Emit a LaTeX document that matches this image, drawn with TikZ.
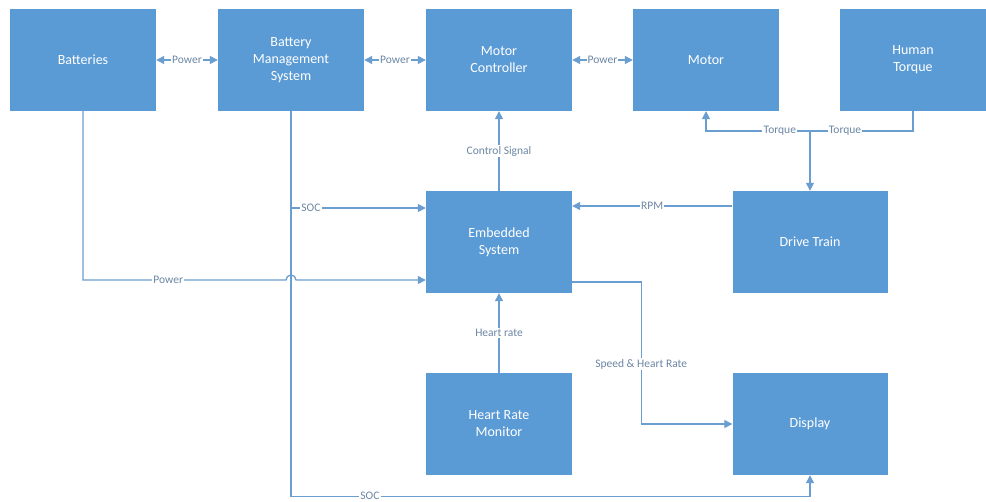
\documentclass[tikz,border=0pt]{standalone}
\usepackage{fontspec}
\setmainfont{Carlito}
\usetikzlibrary{arrows.meta}
\definecolor{boxblue}{HTML}{5B9BD5}
\definecolor{lineblue}{HTML}{6A9DD0}
\definecolor{taggray}{HTML}{6C86A4}
\tikzset{
  block/.style={fill=boxblue, text=white, minimum width=146pt, minimum height=102pt,
    inner sep=0pt, align=center, font=\fontsize{14}{17}\selectfont},
  plain/.style={draw=lineblue, line width=1.3pt},
  link/.style={plain, -{Triangle[length=8pt, width=8pt]}},
  both/.style={plain, {Triangle[length=8pt, width=8pt]}-{Triangle[length=8pt, width=8pt]}},
  tag/.style={fill=white, text=taggray, inner sep=1.2pt, font=\fontsize{11.5}{13}\selectfont}
}

\begin{document}
\begin{tikzpicture}[x=1pt, y=-1pt]
\path[fill=white] (0,0) rectangle (986,500);
% Blocks
    \node[block] (bat)  at (83,60)   {Batteries};
    \node[block] (bms)  at (291,60)  {Battery\\Management\\System};
    \node[block] (mc)   at (499,60)  {Motor\\Controller};
    \node[block] (mot)  at (706,60)  {Motor};
    \node[block] (ht)   at (913,60)  {Human\\Torque};
    \node[block] (emb)  at (499,242) {Embedded\\System};
    \node[block, minimum width=155pt] (dt)   at (810,242) {Drive Train};
    \node[block] (hrm)  at (499,424) {Heart Rate\\Monitor};
    \node[block, minimum width=155pt] (disp) at (810,424) {Display};
% Power chain
    \draw[both] (bat) -- node[tag]{Power} (bms);
    \draw[both] (bms) -- node[tag]{Power} (mc);
    \draw[both] (mc) -- node[tag]{Power} (mot);
% Torque
    \coordinate (tj) at (810,131);
    \draw[plain] (ht.south) |- node[tag, pos=0.83]{Torque} (tj);
    \draw[link] (tj) -| node[tag, pos=0.145]{Torque} (mot.south);
    \draw[link] (tj) -- (dt.north);
% Signals to and from the embedded system
    \draw[link] (emb.north) -- node[tag]{Control Signal} (mc.south);
    \draw[link] ([yshift=36pt]dt.west) -- node[tag]{RPM} ([yshift=36pt]emb.east);
    \draw[link] (bms.south) |- node[tag, pos=0.574]{SOC} ([yshift=34pt]emb.west);
    \draw[link] (hrm.north) -- node[tag]{Heart rate} (emb.south);
% Battery power with a jump over the SOC line
    \coordinate (jump) at (291,280);
    \draw[link] (bat.south) -- (bat.south |- jump) -- node[tag, pos=0.42]{Power} ([xshift=-5pt]jump)
        arc[start angle=180, end angle=360, radius=5] -- ([yshift=-38pt]emb.west);
% Display feeds
    \draw[link] (bms.south) -- ++(0,385) -| node[tag, pos=0.076]{SOC} (disp.south);
    \draw[link] ([yshift=-40pt]emb.east) -- ++(69,0) |- node[tag, pos=0.29]{Speed \& Heart Rate} (disp.west);
\end{tikzpicture}
\end{document}
